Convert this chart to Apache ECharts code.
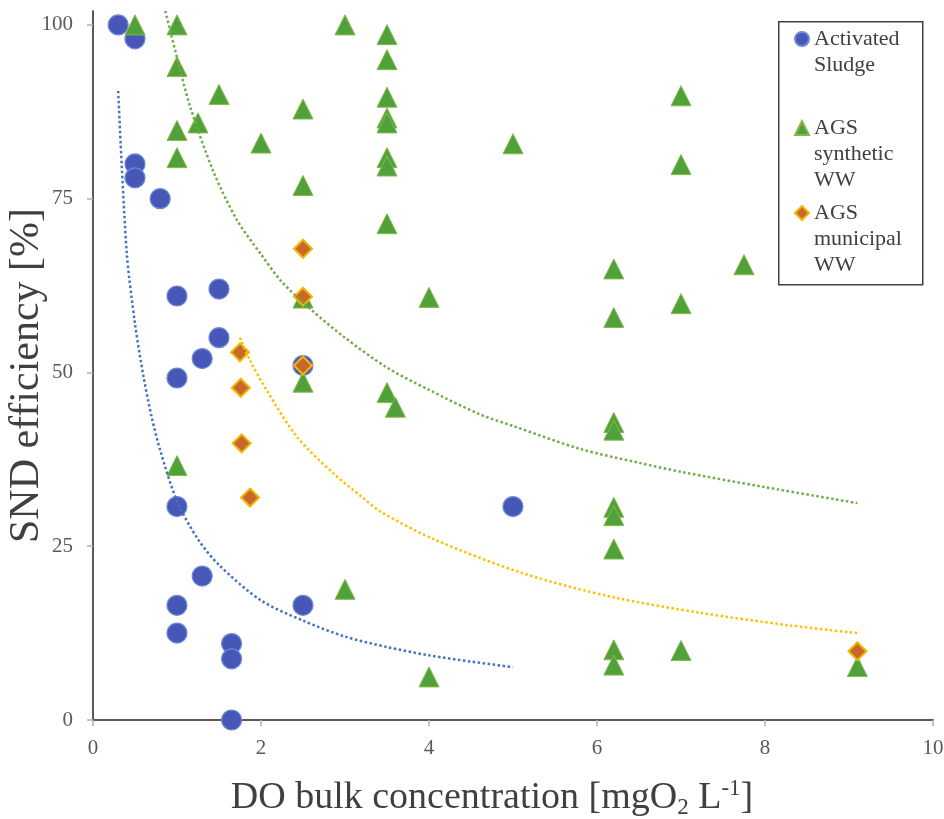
<!DOCTYPE html>
<html>
<head>
<meta charset="utf-8">
<script src="https://cdn.jsdelivr.net/npm/echarts@6/dist/echarts.min.js"></script>
<style>
  html, body { margin: 0; padding: 0; background: #fff; }
  #chart { width: 944px; height: 819px; }
</style>
</head>
<body>
<div id="chart"></div>
<script>
const seriesNames = ['Activated Sludge', 'AGS synthetic WW', 'AGS municipal WW']
const legendLabels = [['Activated', 'Sludge'], ['AGS', 'synthetic', 'WW'], ['AGS', 'municipal', 'WW']]

const xTicks = [0, 2, 4, 6, 8, 10]
const yTicks = [0, 25, 50, 75, 100]

const sludgeX = [0.3, 0.5, 0.5, 0.5, 0.8, 1.0, 1.5, 1.5, 1.3, 1.0, 2.5, 1.0, 5.0, 1.3, 1.0, 1.0, 2.5, 1.65, 1.65, 1.65]
const sludgeY = [100, 98, 80, 78, 75, 61, 62, 55, 52, 49.2, 51, 30.7, 30.7, 20.7, 16.5, 12.5, 16.5, 11, 8.8, 0]

const syntheticX = [0.5, 1.0, 3.0, 3.5, 1.0, 3.5, 1.5, 3.5, 3.5, 3.5, 7.0, 1.25, 1.0, 2.5, 2.0, 5.0, 1.0, 3.5, 3.5, 7.0, 2.5, 3.5,
  7.75, 6.2, 4.0, 2.5, 7.0, 6.2, 2.5, 3.5, 3.6, 6.2, 6.2, 1.0, 6.2, 6.2, 6.2, 3.0, 6.2, 6.2, 7.0, 4.0, 9.1]
const syntheticY = [100, 100, 100, 98.6, 94, 95, 90, 89.6, 86.6, 85.9, 89.8, 85.9, 84.8, 87.9, 83, 82.9, 80.9, 80.9, 79.7, 79.9, 76.9, 71.4,
  65.5, 64.9, 60.8, 60.7, 59.9, 57.9, 48.6, 47.1, 45, 42.8, 41.7, 36.6, 30.6, 29.4, 24.6, 18.8, 10.1, 7.9, 10, 6.2, 7.7]

const municipalX = [2.5, 2.5, 1.75, 1.76, 1.77, 1.87, 2.5, 9.1]
const municipalY = [67.8, 60.9, 52.9, 47.8, 39.8, 32, 51, 9.9]

// trendlines
const sludgeTrendX = [0.3, 0.4, 0.5, 0.6, 0.7, 0.8, 1.0, 1.25, 1.5, 2.0, 2.5, 3.0, 3.5, 4.0, 4.5, 5.0]
const sludgeTrendY = [90.5, 67.5, 57, 49.5, 43.5, 38.8, 31.5, 26, 22.3, 17.2, 14.3, 12, 10.5, 9.3, 8.4, 7.6]

const syntheticTrendX = [0.86, 1.0, 1.15, 1.43, 1.71, 2.0, 2.25, 2.6, 3.0, 3.5, 4.0, 4.6, 5.0, 5.8, 6.5, 7.0, 8.0, 9.1]
const syntheticTrendY = [102, 95.3, 88.5, 79, 72, 67, 63, 59, 55, 50.7, 47.5, 44, 42.3, 39, 37, 35.7, 33.5, 31.2]

const municipalTrendX = [1.75, 1.87, 2.07, 2.43, 2.86, 3.21, 3.42, 4.06, 5.12, 6.18, 7.24, 8.3, 9.1]
const municipalTrendY = [55, 51.7, 47.4, 40.7, 35.5, 32, 30, 26, 21.1, 17.7, 15.4, 13.6, 12.5]

const font = '"Times New Roman", "Liberation Serif", serif'

function zip(xs, ys) {
  return xs.map((x, i) => [x, ys[i]])
}

function trend(xs, ys, color) {
  return {
    type: 'line',
    data: zip(xs, ys),
    showSymbol: false,
    smooth: 0.3,
    silent: true,
    z: 5,
    lineStyle: { color: color, width: 2.5, type: [2.5, 2.5] }
  }
}

// legend text is centred on the icon, so blank lines on top push the first line level with it
function legendFor(i, top) {
  const lines = legendLabels[i]
  return {
    data: [seriesNames[i]],
    left: 794,
    top: top,
    orient: 'vertical',
    padding: 0,
    itemWidth: 14,
    itemHeight: 14,
    selectedMode: false,
    formatter: () => '\n'.repeat(lines.length - 1) + lines.join('\n'),
    textStyle: {
      fontFamily: font,
      fontSize: 22,
      lineHeight: 26,
      color: '#404040'
    }
  }
}

const chart = echarts.init(document.getElementById('chart'))

chart.setOption({
  animation: false,
  backgroundColor: '#fff',
  grid: { left: 93, right: 11, top: 11, bottom: 99, outerBoundsMode: 'none', containLabel: false },
  graphic: [{
    type: 'rect',
    left: 778,
    top: 21,
    z: 3,
    shape: { width: 144, height: 263 },
    style: { fill: '#fff', stroke: '#404040', lineWidth: 1.5 }
  }],
  legend: [
    legendFor(0, 0),
    legendFor(1, 63),
    legendFor(2, 148)
  ],
  xAxis: [{
    type: 'value',
    min: 0,
    max: 10,
    interval: 2,
    name: 'DO bulk concentration [mgO{sub|2} L{sup|-1}]',
    nameLocation: 'middle',
    nameGap: 57,
    nameMoveOverlap: false,
    nameTextStyle: {
      fontFamily: font,
      fontSize: 38,
      lineHeight: 42,
      color: '#404040',
      padding: [0, 42, 0, 0],
      rich: {
        sub: { fontFamily: font, fontSize: 23, lineHeight: 23, verticalAlign: 'bottom', color: '#404040' },
        sup: { fontFamily: font, fontSize: 23, lineHeight: 23, verticalAlign: 'top', color: '#404040' }
      }
    },
    axisLine: { lineStyle: { color: '#B0B0B0', width: 2 } },
    axisTick: { show: true, inside: false, length: 6, lineStyle: { color: '#B0B0B0', width: 1.5 }, customValues: xTicks },
    axisLabel: { fontFamily: font, fontSize: 21, color: '#595959', margin: 18, customValues: xTicks },
    splitLine: { show: false }
  }, {
    type: 'value',
    position: 'top',
    min: 0,
    max: 10,
    axisLine: { show: true, lineStyle: { color: '#3c3c3c', width: 1.5 } },
    axisTick: { show: false },
    axisLabel: { show: false },
    splitLine: { show: false }
  }],
  yAxis: [{
    type: 'value',
    min: 0,
    max: 102,
    interval: 25,
    name: 'SND efficiency [%]',
    nameLocation: 'middle',
    nameGap: 45,
    nameMoveOverlap: false,
    nameTextStyle: {
      fontFamily: font,
      fontSize: 42,
      color: '#404040',
      padding: [0, 20, 0, 0]
    },
    axisLine: { show: true, lineStyle: { color: '#B0B0B0', width: 2 } },
    axisTick: { show: true, inside: false, length: 6, lineStyle: { color: '#B0B0B0', width: 1.5 }, customValues: yTicks },
    axisLabel: { fontFamily: font, fontSize: 21, color: '#595959', margin: 20, customValues: yTicks },
    splitLine: { show: false }
  }, {
    type: 'value',
    position: 'right',
    min: 0,
    max: 102,
    axisLine: { show: true, lineStyle: { color: '#3c3c3c', width: 1.5 } },
    axisTick: { show: false },
    axisLabel: { show: false },
    splitLine: { show: false }
  }],
  series: [
    {
      name: seriesNames[0],
      type: 'scatter',
      symbol: 'circle',
      symbolSize: 20,
      data: zip(sludgeX, sludgeY),
      itemStyle: { color: '#4657B7', borderColor: '#6F88D6', borderWidth: 1.2, opacity: 1 }
    },
    {
      name: seriesNames[1],
      type: 'scatter',
      symbol: 'triangle',
      symbolSize: 20,
      data: zip(syntheticX, syntheticY),
      itemStyle: { color: '#51A13A', borderColor: '#86B94C', borderWidth: 1, opacity: 1 }
    },
    {
      name: seriesNames[2],
      type: 'scatter',
      symbol: 'diamond',
      symbolSize: 18,
      data: zip(municipalX, municipalY),
      itemStyle: { color: '#C8692A', borderColor: '#F2B705', borderWidth: 2, opacity: 1 }
    },
    trend(sludgeTrendX, sludgeTrendY, '#4472C4'),
    trend(syntheticTrendX, syntheticTrendY, '#70AD47'),
    trend(municipalTrendX, municipalTrendY, '#FFC000')
  ]
})
</script>
</body>
</html>
